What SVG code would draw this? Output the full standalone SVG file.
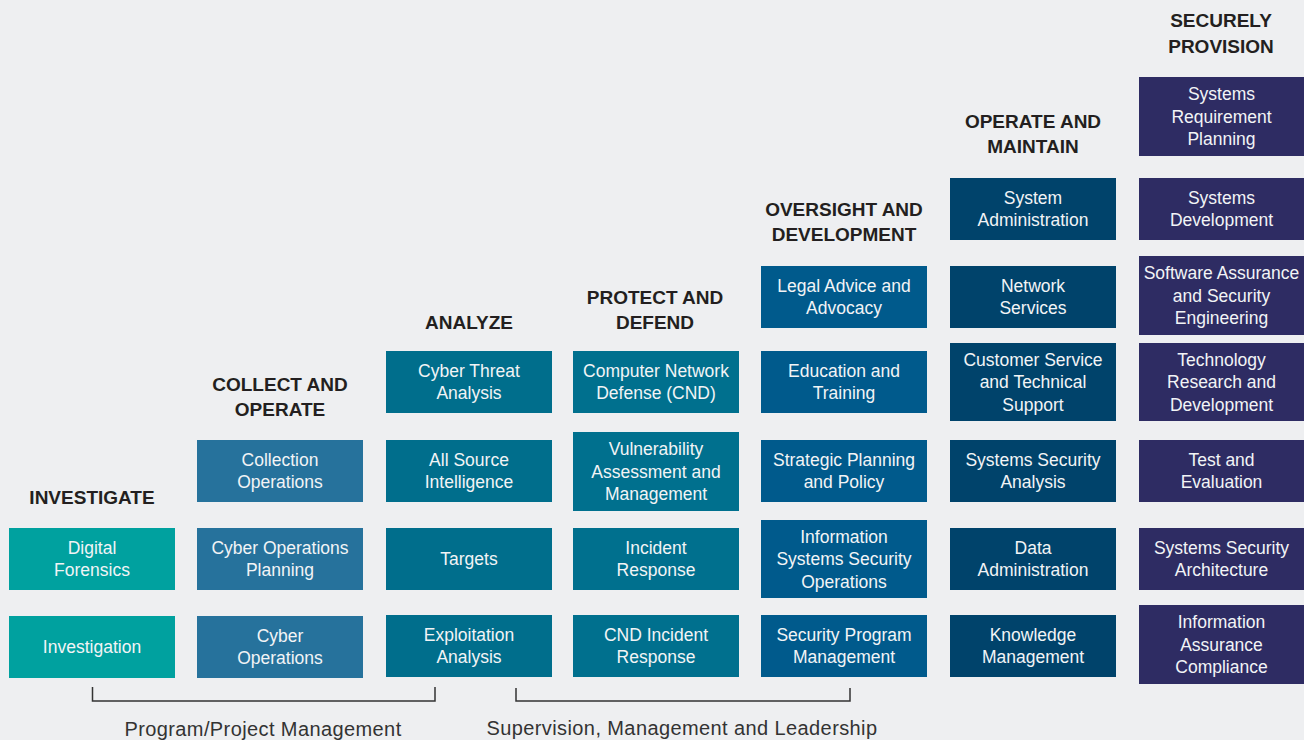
<svg xmlns="http://www.w3.org/2000/svg" width="1304" height="740" viewBox="0 0 1304 740">
  <style>
    .hd { font-family: "Liberation Sans", Arial, sans-serif; font-weight: bold; font-size: 19px; fill: #231F20; text-anchor: middle; }
    .bx { font-family: "Liberation Sans", Arial, sans-serif; font-size: 17.5px; fill: #F2F4F6; text-anchor: middle; }
    .lb { font-family: "Liberation Sans", Arial, sans-serif; font-size: 20px; letter-spacing: 0.4px; fill: #333333; text-anchor: middle; }
    .inv { fill: #00A19F; }
    .col { fill: #26729C; }
    .ana { fill: #006E8C; }
    .pro { fill: #00708E; }
    .ovs { fill: #005A8C; }
    .opm { fill: #00436B; }
    .sec { fill: #2E2C63; }
    .br { fill: none; stroke: #333333; stroke-width: 1.5; }
  </style>
  <rect width="1304" height="740" fill="#EEEFF1"/>

  <!-- category headings -->
  <g id="headings">
    <text class="hd" x="92" y="504">INVESTIGATE</text>
    <text class="hd" x="280" y="391">COLLECT AND<tspan x="280" y="416">OPERATE</tspan></text>
    <text class="hd" x="469" y="329">ANALYZE</text>
    <text class="hd" x="655" y="304">PROTECT AND<tspan x="655" y="329">DEFEND</tspan></text>
    <text class="hd" x="844" y="216">OVERSIGHT AND<tspan x="844" y="241">DEVELOPMENT</tspan></text>
    <text class="hd" x="1033" y="128">OPERATE AND<tspan x="1033" y="153">MAINTAIN</tspan></text>
    <text class="hd" x="1221" y="27">SECURELY<tspan x="1221" y="53">PROVISION</tspan></text>
  </g>

  <!-- Investigate -->
  <g id="digital-forensics"><rect class="inv" x="9" y="528" width="166" height="62"/><text class="bx" x="92" y="553.5">Digital<tspan x="92" y="576">Forensics</tspan></text></g>
  <g id="investigation"><rect class="inv" x="9" y="616" width="166" height="62"/><text class="bx" x="92" y="653">Investigation</text></g>

  <!-- Collect and Operate -->
  <g id="collection-operations"><rect class="col" x="197" y="440" width="166" height="62"/><text class="bx" x="280" y="465.5">Collection<tspan x="280" y="488">Operations</tspan></text></g>
  <g id="cyber-operations-planning"><rect class="col" x="197" y="528" width="166" height="62"/><text class="bx" x="280" y="553.5">Cyber Operations<tspan x="280" y="576">Planning</tspan></text></g>
  <g id="cyber-operations"><rect class="col" x="197" y="616" width="166" height="62"/><text class="bx" x="280" y="641.5">Cyber<tspan x="280" y="664">Operations</tspan></text></g>

  <!-- Analyze -->
  <g id="cyber-threat-analysis"><rect class="ana" x="386" y="351" width="166" height="62"/><text class="bx" x="469" y="376.5">Cyber Threat<tspan x="469" y="399">Analysis</tspan></text></g>
  <g id="all-source-intelligence"><rect class="ana" x="386" y="440" width="166" height="62"/><text class="bx" x="469" y="465.5">All Source<tspan x="469" y="488">Intelligence</tspan></text></g>
  <g id="targets"><rect class="ana" x="386" y="528" width="166" height="62"/><text class="bx" x="469" y="565">Targets</text></g>
  <g id="exploitation-analysis"><rect class="ana" x="386" y="615" width="166" height="62"/><text class="bx" x="469" y="640.5">Exploitation<tspan x="469" y="663">Analysis</tspan></text></g>

  <!-- Protect and Defend -->
  <g id="cnd"><rect class="pro" x="573" y="351" width="166" height="62"/><text class="bx" x="656" y="376.5">Computer Network<tspan x="656" y="399">Defense (CND)</tspan></text></g>
  <g id="vulnerability-assessment"><rect class="pro" x="573" y="432" width="166" height="79"/><text class="bx" x="656" y="455">Vulnerability<tspan x="656" y="477.5">Assessment and</tspan><tspan x="656" y="500">Management</tspan></text></g>
  <g id="incident-response"><rect class="pro" x="573" y="528" width="166" height="62"/><text class="bx" x="656" y="553.5">Incident<tspan x="656" y="576">Response</tspan></text></g>
  <g id="cnd-incident-response"><rect class="pro" x="573" y="615" width="166" height="62"/><text class="bx" x="656" y="640.5">CND Incident<tspan x="656" y="663">Response</tspan></text></g>

  <!-- Oversight and Development -->
  <g id="legal-advice"><rect class="ovs" x="761" y="266" width="166" height="62"/><text class="bx" x="844" y="291.5">Legal Advice and<tspan x="844" y="314">Advocacy</tspan></text></g>
  <g id="education-training"><rect class="ovs" x="761" y="351" width="166" height="62"/><text class="bx" x="844" y="376.5">Education and<tspan x="844" y="399">Training</tspan></text></g>
  <g id="strategic-planning"><rect class="ovs" x="761" y="440" width="166" height="62"/><text class="bx" x="844" y="465.5">Strategic Planning<tspan x="844" y="488">and Policy</tspan></text></g>
  <g id="info-sys-sec-ops"><rect class="ovs" x="761" y="520" width="166" height="78"/><text class="bx" x="844" y="542.5">Information<tspan x="844" y="565">Systems Security</tspan><tspan x="844" y="587.5">Operations</tspan></text></g>
  <g id="security-program-mgmt"><rect class="ovs" x="761" y="615" width="166" height="62"/><text class="bx" x="844" y="640.5">Security Program<tspan x="844" y="663">Management</tspan></text></g>

  <!-- Operate and Maintain -->
  <g id="system-administration"><rect class="opm" x="950" y="178" width="166" height="62"/><text class="bx" x="1033" y="203.5">System<tspan x="1033" y="226">Administration</tspan></text></g>
  <g id="network-services"><rect class="opm" x="950" y="266" width="166" height="62"/><text class="bx" x="1033" y="291.5">Network<tspan x="1033" y="314">Services</tspan></text></g>
  <g id="customer-service"><rect class="opm" x="950" y="343" width="166" height="78"/><text class="bx" x="1033" y="365.5">Customer Service<tspan x="1033" y="388">and Technical</tspan><tspan x="1033" y="410.5">Support</tspan></text></g>
  <g id="systems-security-analysis"><rect class="opm" x="950" y="440" width="166" height="62"/><text class="bx" x="1033" y="465.5">Systems Security<tspan x="1033" y="488">Analysis</tspan></text></g>
  <g id="data-administration"><rect class="opm" x="950" y="528" width="166" height="62"/><text class="bx" x="1033" y="553.5">Data<tspan x="1033" y="576">Administration</tspan></text></g>
  <g id="knowledge-management"><rect class="opm" x="950" y="615" width="166" height="62"/><text class="bx" x="1033" y="640.5">Knowledge<tspan x="1033" y="663">Management</tspan></text></g>

  <!-- Securely Provision -->
  <g id="systems-requirement-planning"><rect class="sec" x="1139" y="77" width="165" height="79"/><text class="bx" x="1221.5" y="100">Systems<tspan x="1221.5" y="122.5">Requirement</tspan><tspan x="1221.5" y="145">Planning</tspan></text></g>
  <g id="systems-development"><rect class="sec" x="1139" y="178" width="165" height="62"/><text class="bx" x="1221.5" y="203.5">Systems<tspan x="1221.5" y="226">Development</tspan></text></g>
  <g id="software-assurance"><rect class="sec" x="1139" y="256" width="165" height="79"/><text class="bx" x="1221.5" y="279">Software Assurance<tspan x="1221.5" y="301.5">and Security</tspan><tspan x="1221.5" y="324">Engineering</tspan></text></g>
  <g id="technology-rd"><rect class="sec" x="1139" y="343" width="165" height="78"/><text class="bx" x="1221.5" y="365.5">Technology<tspan x="1221.5" y="388">Research and</tspan><tspan x="1221.5" y="410.5">Development</tspan></text></g>
  <g id="test-evaluation"><rect class="sec" x="1139" y="440" width="165" height="62"/><text class="bx" x="1221.5" y="465.5">Test and<tspan x="1221.5" y="488">Evaluation</tspan></text></g>
  <g id="systems-security-architecture"><rect class="sec" x="1139" y="528" width="165" height="62"/><text class="bx" x="1221.5" y="553.5">Systems Security<tspan x="1221.5" y="576">Architecture</tspan></text></g>
  <g id="info-assurance-compliance"><rect class="sec" x="1139" y="605" width="165" height="79"/><text class="bx" x="1221.5" y="628">Information<tspan x="1221.5" y="650.5">Assurance</tspan><tspan x="1221.5" y="673">Compliance</tspan></text></g>

  <!-- spanning brackets -->
  <g id="connectors">
    <path class="br" d="M92.5 687 V701 H435 V687"/>
    <path class="br" d="M516 688 V701 H850 V688"/>
  </g>
  <g id="span-labels">
    <text class="lb" x="263" y="736">Program/Project Management</text>
    <text class="lb" x="682" y="735">Supervision, Management and Leadership</text>
  </g>
</svg>
